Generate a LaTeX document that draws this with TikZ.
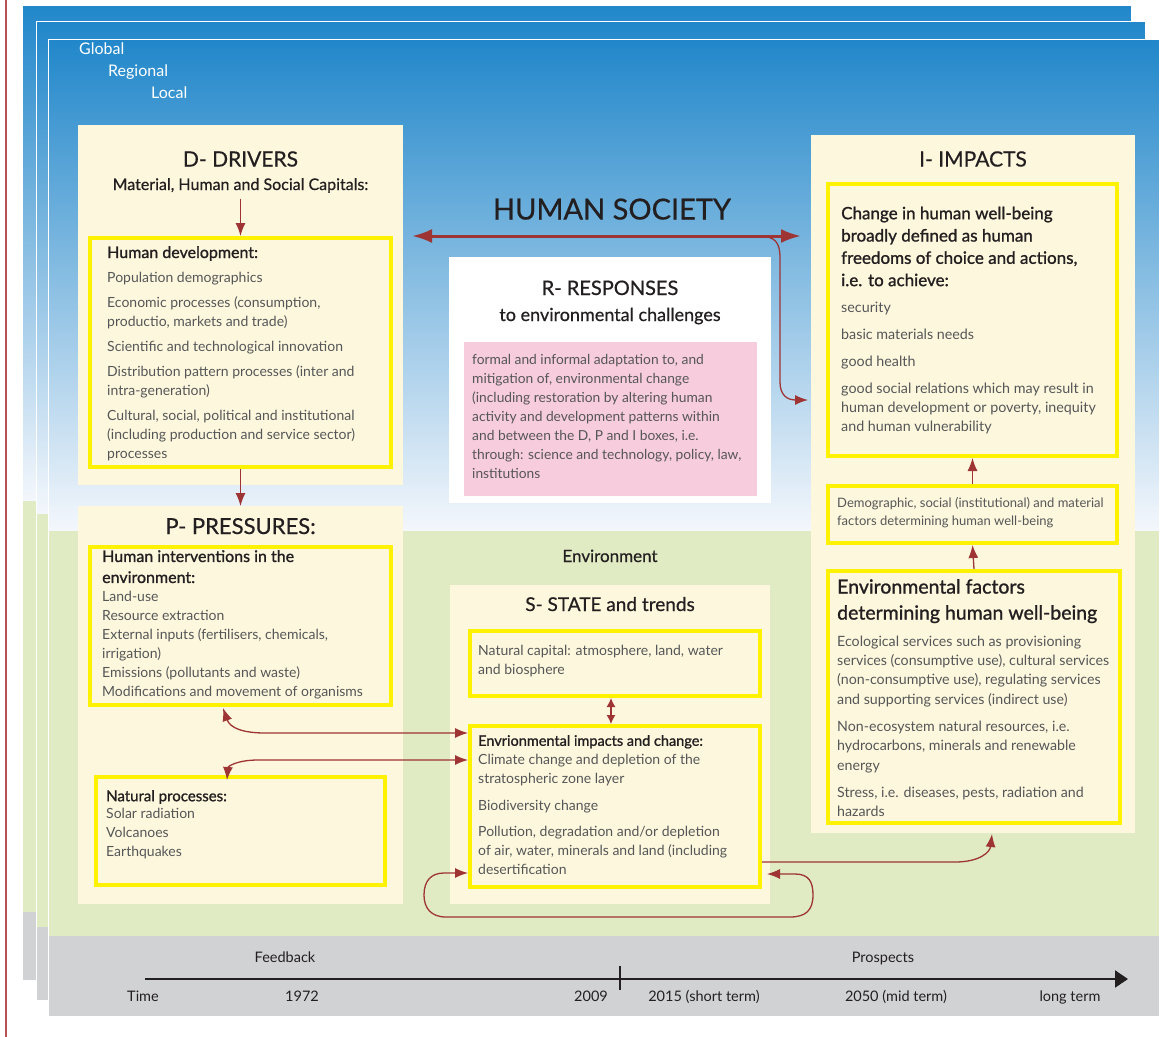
\documentclass[tikz,border=0pt]{standalone}
\usepackage{fontspec}
\setmainfont{Lato}
\newfontfamily\medfont[FakeBold=1.2]{Lato}
\newfontfamily\ttlfont[FakeBold=0.6]{Lato}
\usetikzlibrary{arrows.meta}
\definecolor{skyTop}{RGB}{33,135,202}
\definecolor{skyMid}{RGB}{98,157,214}
\definecolor{skyBot}{RGB}{244,247,252}
\definecolor{envgreen}{RGB}{224,235,196}
\definecolor{tlgray}{RGB}{209,210,212}
\definecolor{creamc}{RGB}{253,248,221}
\definecolor{yel}{RGB}{255,242,0}
\definecolor{pinkc}{RGB}{247,204,220}
\definecolor{arrred}{RGB}{158,52,52}
\definecolor{darktext}{RGB}{35,31,32}
\definecolor{bodyc}{RGB}{85,86,88}
\definecolor{marginred}{RGB}{185,80,85}
\newcommand{\fsz}[2]{\fontsize{#1pt}{#2pt}\selectfont}
\newcommand{\drawlayer}[6]{%
  \shade[top color=skyTop, middle color=skyMid, bottom color=skyBot] (#1,#2) rectangle (#3,#4);
  \fill[envgreen] (#1,#4) rectangle (#3,#5);
  \fill[tlgray] (#1,#5) rectangle (#3,#6);
  \draw[white, line width=0.8pt] (#1,#2) rectangle (#3,#6);
}
\begin{document}
\begin{tikzpicture}[x=1pt,y=-1pt,
  >={Latex[length=13pt,width=10pt]},
  cream/.style={fill=creamc, draw=none, inner sep=0pt, outer sep=0pt, anchor=north west},
  ybox/.style={draw=yel, line width=4pt, fill=creamc, inner sep=0pt, outer sep=0pt, anchor=north west},
  txt/.style={anchor=north west, inner sep=0pt, align=left, execute at begin node={\rule{0pt}{.8em}}},
  body/.style={txt, text=bodyc},
  head/.style={txt, text=darktext},
  title/.style={anchor=base, inner sep=0pt, text=darktext},
  conn/.style={draw=arrred, line width=1.3pt, ->},
  conn2/.style={draw=arrred, line width=1.3pt, <->},
  tltext/.style={anchor=base, inner sep=0pt, text=darktext, font=\fsz{14.5}{17}},
]
\useasboundingbox (0,0) rectangle (1171,1037);
\fill[white] (0,0) rectangle (1171,1037);
\draw[marginred, line width=1.2pt] (6,0) -- (6,1037);

% stacked layers
\drawlayer{22}{5}{1131}{501}{912}{980}
\drawlayer{36}{21}{1145}{514}{927}{1000}
\drawlayer{48}{39}{1159}{531}{936}{1016}

% scale labels
\node[anchor=north west, inner sep=0pt, text=white, font=\fsz{16}{18}] (glob) at (79,42.5) {Global};
\node[anchor=north west, inner sep=0pt, text=white, font=\fsz{16}{18}] (regi) at (108,64.5) {Regional};
\node[anchor=north west, inner sep=0pt, text=white, font=\fsz{16}{18}] (loca) at (151,86.5) {Local};

% ---------------- D DRIVERS ----------------
\node[cream, minimum width=325pt, minimum height=360pt] (Dbox) at (78,125) {};
\node[title, font=\ttlfont\fsz{21}{24}] (Dtitle) at (240.5,166.5) {D- DRIVERS};
\node[title, font=\ttlfont\fsz{16}{19}] (Dsub) at (240.5,190) {Material, Human and Social Capitals:};
\node[ybox, minimum width=301pt, minimum height=229pt] (HD) at (90,238) {};
\node[head, font=\medfont\fsz{16}{19}] (HDh) at (107,245) {Human development:};
\node[body, font=\fsz{14}{19}] (HDb) at (107,272) {Population demographics\\[6pt]
Economic processes (consumption,\\ productio, markets and trade)\\[6pt]
Scientific and technological innovation\\[6pt]
Distribution pattern processes (inter and\\ intra-generation)\\[6pt]
Cultural, social, political and institutional\\ (including production and service sector)\\ processes};

% ---------------- P PRESSURES ----------------
\node[cream, minimum width=325pt, minimum height=398pt] (Pbox) at (78,506) {};
\node[title, font=\ttlfont\fsz{22}{25}] (Ptitle) at (240.5,534) {P- PRESSURES:};
\node[ybox, minimum width=301pt, minimum height=158pt] (PI) at (90,547) {};
\node[head, font=\medfont\fsz{16}{21}] (PIh) at (102,550) {Human interventions in the\\ environment:};
\node[body, font=\fsz{14}{19}] (PIb) at (102,591) {Land-use\\ Resource extraction\\
External inputs (fertilisers, chemicals,\\ irrigation)\\ Emissions (pollutants and waste)\\
Modifications and movement of organisms};
\node[ybox, minimum width=289pt, minimum height=108pt] (NP) at (96,777) {};
\node[head, font=\medfont\fsz{15}{19}] (NPh) at (106,789) {Natural processes:};
\node[body, font=\fsz{14}{19}] (NPb) at (106,808) {Solar radiation\\ Volcanoes\\ Earthquakes};

% ---------------- HUMAN SOCIETY ----------------
\node[title, font=\ttlfont\fsz{29}{32}] (HS) at (612,219.5) {HUMAN SOCIETY};

% ---------------- R RESPONSES ----------------
\node[cream, fill=white, minimum width=322pt, minimum height=246pt] (Rbox) at (449,257) {};
\node[title, font=\ttlfont\fsz{20}{23}] (Rtitle) at (610,295) {R- RESPONSES};
\node[title, font=\ttlfont\fsz{18}{21}] (Rsub) at (610,321) {to environmental challenges};
\node[cream, fill=pinkc, minimum width=293pt, minimum height=154pt] (pink) at (464,342) {};
\node[body, font=\fsz{13.8}{19}] (pinkt) at (472,354) {formal and informal adaptation to, and\\
mitigation of, environmental change\\ (including restoration by altering human\\
activity and development patterns within\\ and between the D, P and I boxes, i.e.\\
through: science and technology, policy, law,\\ institutions};

% ---------------- Environment / S STATE ----------------
\node[title, font=\ttlfont\fsz{17}{20}] (envl) at (610,562) {Environment};
\node[cream, minimum width=320pt, minimum height=319pt] (Sbox) at (450,585) {};
\node[title, font=\ttlfont\fsz{19}{22}] (Stitle) at (610,611) {S- STATE and trends};
\node[ybox, minimum width=290pt, minimum height=65pt] (NC) at (470,631) {};
\node[body, font=\fsz{14}{19}] (NCt) at (478,645) {Natural capital: atmosphere, land, water\\ and biosphere};
\node[ybox, minimum width=290pt, minimum height=161pt] (EI) at (470,726) {};
\node[head, font=\medfont\fsz{14.5}{19}] (EIh) at (478,734) {Envrionmental impacts and change:};
\node[body, font=\fsz{14}{19}] (EIb) at (478,754) {Climate change and depletion of the\\ stratospheric zone layer\\[7.5pt]
Biodiversity change\\[7pt]
Pollution, degradation and/or depletion\\ of air, water, minerals and land (including\\ desertification};

% ---------------- I IMPACTS ----------------
\node[cream, minimum width=324pt, minimum height=698pt] (Ibox) at (811,135) {};
\node[title, font=\ttlfont\fsz{21}{24}] (Ititle) at (973,166.5) {I- IMPACTS};
\node[ybox, minimum width=289pt, minimum height=272pt] (HW) at (828,184) {};
\node[head, font=\medfont\fsz{17}{22.3}] (HWh) at (841,206.5) {Change in human well-being\\ broadly defined as human\\
freedoms of choice and actions,\\ i.e. to achieve:};
\node[body, font=\fsz{14.3}{19}] (HWb) at (841,301.5) {security\\[8pt] basic materials needs\\[8pt] good health\\[8pt]
good social relations which may result in\\ human development or poverty, inequity\\ and human vulnerability};
\node[ybox, minimum width=289pt, minimum height=57pt] (DF) at (828,486) {};
\node[body, font=\fsz{13}{18}] (DFt) at (837,497) {Demographic, social (institutional) and material\\ factors determining human well-being};
\node[ybox, minimum width=292pt, minimum height=252pt] (EF) at (828,571) {};
\node[head, font=\medfont\fsz{19.5}{26}] (EFh) at (837,579) {Environmental factors\\ determining human well-being};
\node[body, font=\fsz{14.2}{19.4}] (EFb) at (837,635.5) {Ecological services such as provisioning\\
services (consumptive use), cultural services\\ (non-consumptive use), regulating services\\
and supporting services (indirect use)\\[7.6pt]
Non-ecosystem natural resources, i.e.\\ hydrocarbons, minerals and renewable\\ energy\\[7.6pt]
Stress, i.e. diseases, pests, radiation and\\ hazards};

% ---------------- connectors ----------------
\draw[conn] ([yshift=-6pt]Dsub.south) -- ([yshift=2pt]HD.north);
\draw[conn] ([yshift=-2pt]HD.south) -- (Pbox.north);

\coordinate (hsL) at (412,236);
\coordinate (hsR) at (801,236);
\draw[draw=arrred, line width=3pt, {Latex[length=20pt,width=14pt]}-{Latex[length=20pt,width=14pt]}] (hsL) -- (hsR);
\coordinate (brS) at (758,236);
\coordinate (brE) at (808,400);
\draw[conn] (brS) .. controls (775,236) and (780,242) .. (780,258) -- (780,382)
  .. controls (780,395) and (787,400) .. (brE);

\draw[conn] ([yshift=2pt]DF.north) -- ([yshift=-2pt]HW.south);
\draw[conn] ([yshift=2pt]EF.north) -- ([yshift=-2pt]DF.south);
\draw[draw=arrred, line width=1.3pt, {Latex[length=9pt,width=9pt]}-{Latex[length=9pt,width=9pt]}]
  ([xshift=-4pt,yshift=-2pt]NC.south) -- ([xshift=-4pt,yshift=2pt]EI.north);

\coordinate (ps1a) at (223,708);
\coordinate (ps1b) at (468,733);
\draw[conn2] (ps1a) .. controls (230,728) and (243,733) .. (265,733) -- (ps1b);
\coordinate (ps2a) at (468,760);
\coordinate (ps2b) at (227,780);
\draw[conn2] (ps2a) -- (258,760) .. controls (238,760) and (228,766) .. (ps2b);

\coordinate (si1) at (762,862);
\coordinate (si2) at (992,834);
\draw[conn] (si1) -- (955,862) .. controls (980,862) and (990,852) .. (si2);

\coordinate (lpA) at (767,874);
\coordinate (lpB) at (468,873);
\draw[conn2] (lpA) -- (795,874) .. controls (809,874) and (813,882) .. (813,895)
  .. controls (813,910) and (806,917) .. (790,917) -- (446,917)
  .. controls (431,917) and (424,908) .. (424,895)
  .. controls (424,881) and (431,873) .. (444,873) -- (lpB);

% ---------------- timeline ----------------
\coordinate (tlS) at (145,979);
\coordinate (tlE) at (1128,979);
\draw[darktext, line width=2.2pt, -{Triangle[length=13pt,width=17pt]}] (tlS) -- (tlE);
\coordinate (tkA) at (620,966);
\coordinate (tkB) at (620,990);
\draw[darktext, line width=1.8pt] (tkA) -- (tkB);
\node[tltext] (fb) at (285,962) {Feedback};
\node[tltext] (pr) at (883,962) {Prospects};
\node[tltext] (t0) at (143,1001) {Time};
\node[tltext] (t1) at (302,1001) {1972};
\node[tltext] (t2) at (591,1001) {2009};
\node[tltext] (t3) at (704,1001) {2015 (short term)};
\node[tltext] (t4) at (896,1001) {2050 (mid term)};
\node[tltext] (t5) at (1070,1001) {long term};
\end{tikzpicture}
\end{document}
